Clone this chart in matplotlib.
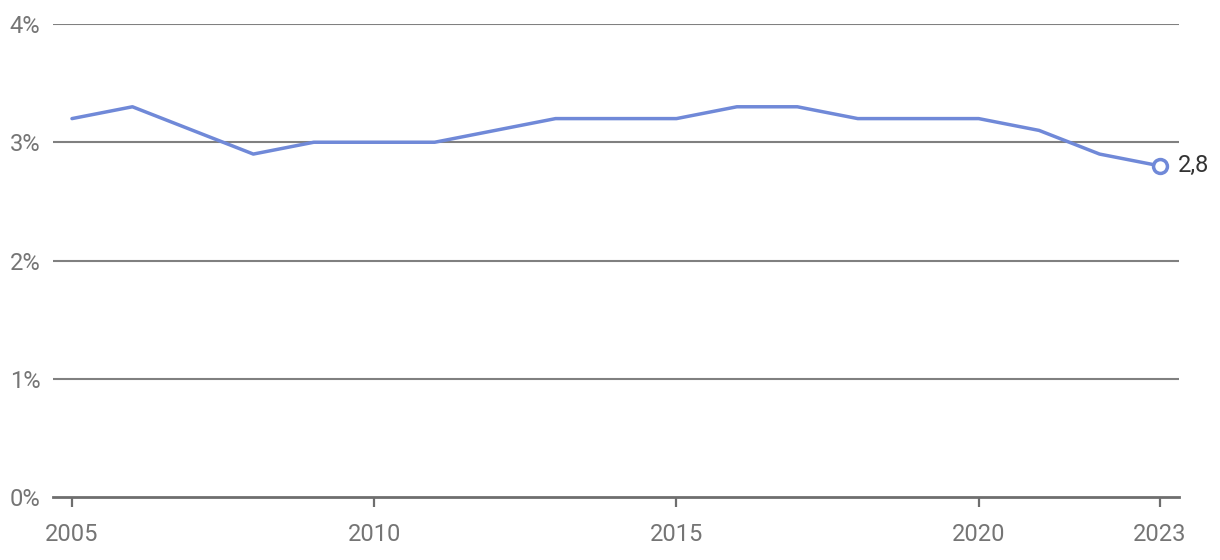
import matplotlib.pyplot as plt

years = list(range(2005, 2024))
values = [3.2, 3.3, 3.1, 2.9, 3.0, 3.0, 3.0, 3.1, 3.2, 3.2,
          3.2, 3.3, 3.3, 3.2, 3.2, 3.2, 3.1, 2.9, 2.8]
xticks = [2005, 2010, 2015, 2020, 2023]
yticks = [0, 1, 2, 3, 4]

LINE_COLOR = "#7089d8"
GRID_COLOR = "#808080"
TEXT_COLOR = "#757575"

plt.rcParams["font.family"] = ["Roboto", "DejaVu Sans"]

fig = plt.figure(figsize=(12.2, 5.6), dpi=100)
ax = fig.add_axes([53 / 1220, 1 - 497 / 560, (1179 - 53) / 1220, (497 - 24) / 560])

for y in yticks[1:]:
    ax.axhline(y, color=GRID_COLOR, lw=1.5, zorder=1)

ax.plot(years, values, color=LINE_COLOR, lw=2.5, solid_joinstyle="round",
        solid_capstyle="round", zorder=3)
ax.plot(years[-1], values[-1], marker="o", ms=10, mfc="white", mec=LINE_COLOR,
        mew=2.5, zorder=4)
ax.annotate(f"{values[-1]:.1f}".replace(".", ","), (years[-1], values[-1]),
            xytext=(13, 0), textcoords="offset points", va="center", ha="left",
            fontsize=17, color="#333333")

ax.set_xlim(2004.686, 2023.314)
ax.set_ylim(0, 4)
ax.set_xticks(xticks)
ax.set_yticks(yticks)
ax.set_yticklabels([f"{v}%" for v in yticks])

for s in ["top", "right", "left"]:
    ax.spines[s].set_visible(False)
ax.spines["bottom"].set_color("#6e6e6e")
ax.spines["bottom"].set_linewidth(2)

ax.tick_params(axis="x", length=7, width=1.6, color="#6e6e6e", pad=12,
               labelsize=17, labelcolor=TEXT_COLOR)
ax.tick_params(axis="y", length=0, pad=9, labelsize=17, labelcolor=TEXT_COLOR)
ax.patch.set_visible(False)

fig.savefig("out.png", dpi=100)
